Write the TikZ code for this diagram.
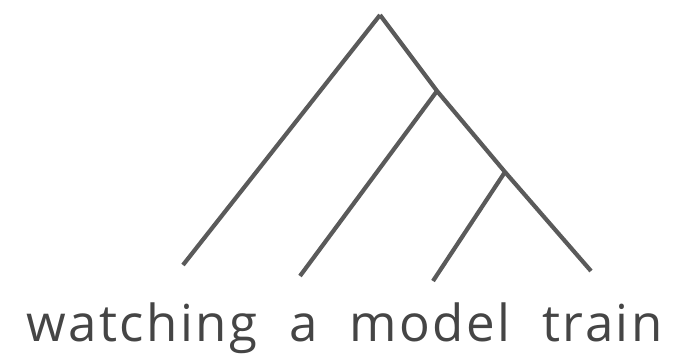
\documentclass[tikz,border=0pt]{standalone}
\usepackage{fontspec}
\setmainfont[WordSpace=2,LetterSpace=5]{Open Sans}
\definecolor{branch}{HTML}{5A5A5A}
\definecolor{txt}{HTML}{454545}
\tikzset{edge/.style={draw=branch,line width=4.2pt,line cap=butt}}
\begin{document}
\begin{tikzpicture}[x=1pt,y=-1pt]
\useasboundingbox (0,0) rectangle (678,359);
\coordinate (root) at (380,15);
\coordinate (n2) at (437,91);
\coordinate (n3) at (505,172);
\coordinate (l1) at (183,265);
\coordinate (l2) at (300,276);
\coordinate (l3) at (433,281);
\coordinate (l4) at (591,271);
\draw[edge] (root) -- (n2) -- (n3) -- (l4);
\draw[edge] (root) -- (l1);
\draw[edge] (n2) -- (l2);
\draw[edge] (n3) -- (l3);
\node[anchor=base west,inner sep=0pt,text=txt,font=\fontsize{51}{61}\selectfont] (label) at (26,341) {watching a model train};
\end{tikzpicture}
\end{document}
